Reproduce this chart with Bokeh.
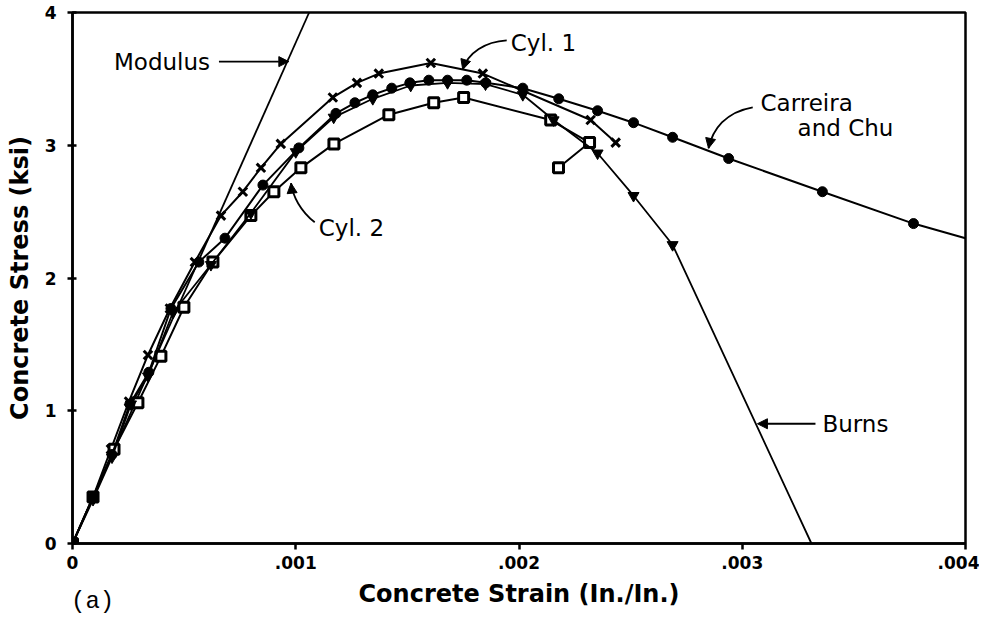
from bokeh.plotting import figure
from bokeh.models import Range1d, FixedTicker, Arrow, NormalHead, Div
from bokeh.layouts import column
from bokeh.embed import file_html
from bokeh.resources import INLINE
from bokeh.core.properties import value

# ---------------- data ----------------
strain_ticks = [0.0, 0.001, 0.002, 0.003, 0.004]
strain_tick_labels = ["0", ".001", ".002", ".003", ".004"]
stress_ticks = [0.0, 1.0, 2.0, 3.0, 4.0]

modulus_strain = [0.0, 0.00106]
modulus_stress = [0.0, 4.0]

cyl1_strain = [0.0, 0.000092, 0.000172, 0.000253, 0.000338, 0.000436, 0.000548,
               0.000665, 0.000763, 0.000844, 0.000933, 0.001166, 0.001274,
               0.001372, 0.001605, 0.001838, 0.002321, 0.002433]
cyl1_stress = [0.0, 0.35, 0.71, 1.07, 1.42, 1.77, 2.12, 2.47, 2.65, 2.83, 3.01,
               3.36, 3.47, 3.54, 3.62, 3.54, 3.19, 3.02]

cyl2_strain = [0.0, 0.000092, 0.000186, 0.000293, 0.000396, 0.000499, 0.000629,
               0.000799, 0.000902, 0.001023, 0.001171, 0.001417, 0.001618,
               0.001752, 0.002142, 0.002316, 0.002177]
cyl2_stress = [0.0, 0.35, 0.71, 1.06, 1.41, 1.78, 2.12, 2.47, 2.65, 2.83, 3.01,
               3.23, 3.32, 3.36, 3.19, 3.02, 2.83]

carreira_strain = [0.0, 0.000092, 0.000177, 0.000257, 0.000342, 0.000441, 0.000566,
                   0.000683, 0.000853, 0.001014, 0.00118, 0.001265, 0.001345,
                   0.00143, 0.001511, 0.001596, 0.00168, 0.001766, 0.001851,
                   0.002017, 0.002178, 0.002352, 0.002513, 0.002688, 0.002939,
                   0.003359, 0.003767, 0.004]
carreira_stress = [0.0, 0.35, 0.67, 1.05, 1.29, 1.77, 2.12, 2.30, 2.70, 2.98, 3.24,
                   3.32, 3.38, 3.43, 3.47, 3.49, 3.49, 3.49, 3.47, 3.43, 3.35,
                   3.26, 3.17, 3.06, 2.90, 2.65, 2.41, 2.30]
carreira_marked = 27  # markers on all but the end point

burns_strain = [0.0, 0.000092, 0.000177, 0.000262, 0.000338, 0.00045, 0.00062,
                0.000799, 0.001, 0.00117, 0.001345, 0.001515, 0.00168, 0.00185,
                0.002017, 0.002155, 0.002352, 0.002513, 0.002688, 0.00331]
burns_stress = [0.0, 0.33, 0.65, 1.05, 1.26, 1.74, 2.10, 2.49, 2.95, 3.21, 3.35,
                3.45, 3.47, 3.46, 3.38, 3.19, 2.94, 2.62, 2.25, 0.0]
burns_marked = 19

# annotation texts
label_text = ["Modulus", "Cyl. 1", "Cyl. 2", "Carreira", "and Chu", "Burns"]
label_x = [0.000186, 0.001963, 0.001103, 0.003082, 0.003248, 0.003359]
label_y = [3.63, 3.77, 2.376, 3.316, 3.128, 0.902]
caption = "(a)"

# ---------------- figure ----------------
p = figure(width=979, height=615, x_range=Range1d(0, 0.004), y_range=Range1d(0, 4),
           output_backend="svg", toolbar_location=None,
           min_border_left=72, min_border_right=14, min_border_top=12, min_border_bottom=72)
p.background_fill_color = "white"
p.border_fill_color = "white"
p.xgrid.visible = False
p.ygrid.visible = False
p.outline_line_color = "black"
p.outline_line_width = 2.5

p.xaxis.ticker = FixedTicker(ticks=strain_ticks)
p.xaxis.major_label_overrides = dict(zip(strain_ticks, strain_tick_labels))
p.yaxis.ticker = FixedTicker(ticks=stress_ticks)
p.yaxis.major_label_overrides = {t: str(int(t)) for t in stress_ticks}

for ax in (p.xaxis[0], p.yaxis[0]):
    ax.axis_line_color = "black"
    ax.axis_line_width = 2.5
    ax.major_tick_line_color = "black"
    ax.major_tick_line_width = 2.5
    ax.minor_tick_line_color = None
    ax.major_label_text_font = "DejaVu Sans"
    ax.major_label_text_font_style = "bold"
    ax.major_label_text_font_size = "17px"
    ax.major_label_text_color = "black"
    ax.axis_label_text_font = "DejaVu Sans"
    ax.axis_label_text_font_style = "bold"
    ax.axis_label_text_font_size = "24px"
    ax.axis_label_text_color = "black"

p.xaxis.major_tick_in = 0
p.xaxis.major_tick_out = 6
p.xaxis.major_label_standoff = 6
p.xaxis.axis_label = "Concrete Strain (In./In.)"
p.xaxis.axis_label_standoff = 8
p.yaxis.major_tick_in = 4
p.yaxis.major_tick_out = 5
p.yaxis.major_label_standoff = 11
p.yaxis.axis_label = "Concrete Stress (ksi)"
p.yaxis.axis_label_standoff = 8

# modulus line
p.line(modulus_strain, modulus_stress, line_color="black", line_width=1.8)

# Cyl. 1
p.line(cyl1_strain, cyl1_stress, line_color="black", line_width=2)
p.scatter(cyl1_strain, cyl1_stress, marker="x", size=12, line_color="black", line_width=3)

# Cyl. 2
p.line(cyl2_strain, cyl2_stress, line_color="black", line_width=2)
p.scatter(cyl2_strain, cyl2_stress, marker="square", size=10, line_color="black",
          line_width=3, fill_color="white")

# Carreira and Chu
p.line(carreira_strain, carreira_stress, line_color="black", line_width=2)
p.scatter(carreira_strain[:carreira_marked], carreira_stress[:carreira_marked],
          marker="circle", size=10, line_color="black", fill_color="black")

# Burns
p.line(burns_strain, burns_stress, line_color="black", line_width=1.8)
p.scatter(burns_strain[:burns_marked], burns_stress[:burns_marked],
          marker="inverted_triangle", size=11, line_color="black", fill_color="black")

# annotation labels
p.text(label_x, label_y, text=label_text, text_font=value("DejaVu Sans"),
       text_font_size="23px", text_baseline="middle", text_align="left", text_color="black")

# straight arrows
p.add_layout(Arrow(x_start=0.000656, y_start=3.63, x_end=0.000969, y_end=3.63,
                   line_color="black", line_width=1.8,
                   end=NormalHead(size=10, fill_color="black", line_color="black")))
p.add_layout(Arrow(x_start=0.003328, y_start=0.902, x_end=0.003068, y_end=0.902,
                   line_color="black", line_width=1.8,
                   end=NormalHead(size=10, fill_color="black", line_color="black")))

# curved arrows (Cyl. 1, Cyl. 2, Carreira and Chu)
cx0 = [0.001945, 0.001085, 0.003047]
cy0 = [3.79, 2.42, 3.286]
cx1 = [0.001748, 0.000979, 0.002849]
cy1 = [3.57, 2.714, 2.977]
ccx0 = [0.00185, 0.001023, 0.002925]
ccy0 = [3.78, 2.50, 3.25]
ccx1 = [0.001772, 0.000985, 0.002867]
ccy1 = [3.70, 2.62, 3.12]
p.bezier(x0=cx0, y0=cy0, x1=cx1, y1=cy1, cx0=ccx0, cy0=ccy0, cx1=ccx1, cy1=ccy1,
         line_color="black", line_width=1.8)
for i in range(3):
    p.add_layout(Arrow(x_start=ccx1[i], y_start=ccy1[i], x_end=cx1[i], y_end=cy1[i],
                       line_alpha=0, line_width=1,
                       end=NormalHead(size=10, fill_color="black", line_color="black")))

# panel caption "(a)" just below the plot, overlapping the axis-label band
cap = Div(text=caption, width=60, height=25, margin=(-25, 0, 0, 71),
          styles={"font-family": "Liberation Mono", "font-size": "24px",
                  "line-height": "24px", "color": "black"})

layout = column(p, cap, spacing=0)

open("out.html", "w").write(file_html(layout, INLINE))
